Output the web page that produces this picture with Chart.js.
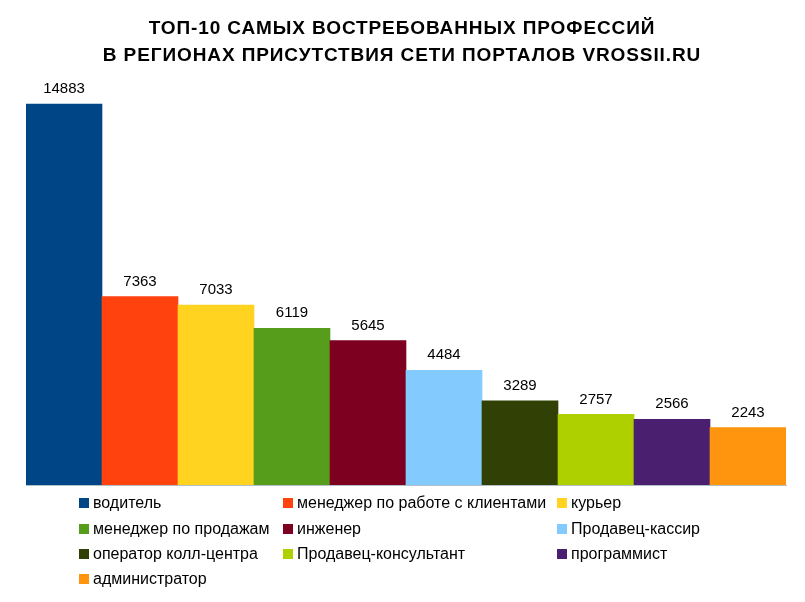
<!DOCTYPE html>
<html>
<head>
<meta charset="utf-8">
<script src="https://cdn.jsdelivr.net/npm/chart.js@4"></script>
<style>
  html, body { margin: 0; padding: 0; background: #fff; }
  #wrap { position: relative; width: 805px; height: 602px; }
</style>
</head>
<body>
<div id="wrap"><canvas id="c" width="805" height="602"></canvas></div>
<script>
const TITLE = ['ТОП-10 САМЫХ ВОСТРЕБОВАННЫХ ПРОФЕССИЙ', 'В РЕГИОНАХ ПРИСУТСТВИЯ СЕТИ ПОРТАЛОВ VROSSII.RU'];
const PROFESSIONS = [
  'водитель', 'менеджер по работе с клиентами', 'курьер',
  'менеджер по продажам', 'инженер', 'Продавец-кассир',
  'оператор колл-центра', 'Продавец-консультант', 'программист',
  'администратор'
];
const COUNTS = [14883, 7363, 7033, 6119, 5645, 4484, 3289, 2757, 2566, 2243];
const COLORS = ['#004586', '#ff420e', '#ffd320', '#579d1c', '#7e0021', '#83caff', '#314004', '#aecf00', '#4b1f6f', '#ff950e'];

const FONT = "'Liberation Sans', Arial, sans-serif";

// title, value labels and a 3-column legend, drawn on the canvas
const decor = {
  id: 'decor',
  afterDraw(chart) {
    const ctx = chart.ctx;
    ctx.save();
    ctx.fillStyle = '#000';
    ctx.textAlign = 'center';
    ctx.textBaseline = 'middle';
    ctx.font = 'bold 19px ' + FONT;
    ctx.letterSpacing = '0.9px';
    ctx.fillText(TITLE[0], 402, 29);
    ctx.fillText(TITLE[1], 402, 56);
    ctx.letterSpacing = '0px';

    ctx.font = '15px ' + FONT;
    const meta = chart.getDatasetMeta(0);
    meta.data.forEach((bar, i) => {
      ctx.fillText(String(COUNTS[i]), bar.x, bar.y - 15);
    });

    const colX = [79, 283, 557];
    const rowY = [503, 529, 554, 579];
    ctx.textAlign = 'left';
    ctx.font = '16px ' + FONT;
    PROFESSIONS.forEach((name, i) => {
      const x = colX[i % 3], y = rowY[Math.floor(i / 3)];
      ctx.fillStyle = COLORS[i];
      ctx.fillRect(x, y - 5, 10, 10);
      ctx.fillStyle = '#000';
      ctx.fillText(name, x + 14, y + 1);
    });
    ctx.restore();
  }
};

new Chart(document.getElementById('c'), {
  type: 'bar',
  data: {
    labels: PROFESSIONS,
    datasets: [{ data: COUNTS, backgroundColor: COLORS, categoryPercentage: 1, barPercentage: 1 }]
  },
  options: {
    responsive: false,
    animation: false,
    layout: { padding: { top: 101, bottom: 109, left: 26, right: 19 } },
    plugins: { legend: { display: false }, tooltip: { enabled: false }, title: { display: false } },
    scales: {
      x: { grid: { display: false }, ticks: { display: false }, border: { color: '#b4c0c8', width: 1 } },
      y: { display: false, min: 0, max: 15000 }
    }
  },
  plugins: [decor]
});
</script>
</body>
</html>
